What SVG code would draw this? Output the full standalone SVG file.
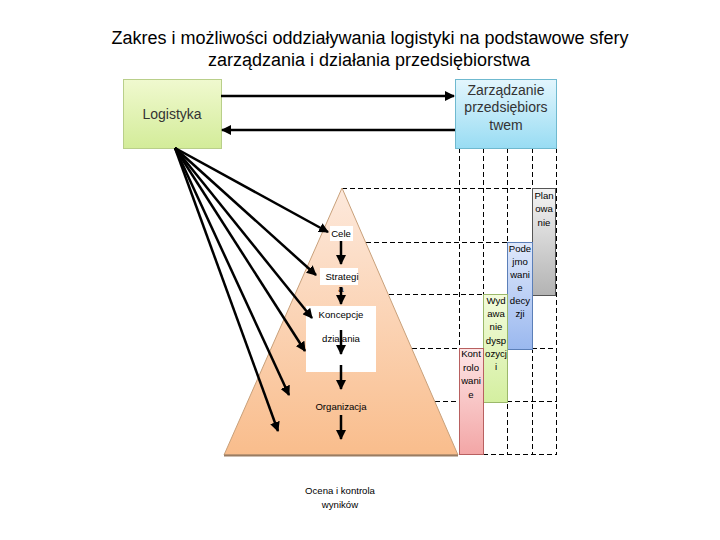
<svg xmlns="http://www.w3.org/2000/svg" width="720" height="540" viewBox="0 0 720 540">
<defs>
<linearGradient id="gGreen" x1="0" y1="0" x2="0" y2="1"><stop offset="0" stop-color="#f0f9cf"/><stop offset="1" stop-color="#d3ec99"/></linearGradient>
<linearGradient id="gCyan" x1="0" y1="0" x2="0" y2="1"><stop offset="0" stop-color="#e3f6fd"/><stop offset="1" stop-color="#98dcf3"/></linearGradient>
<linearGradient id="gGray" x1="0" y1="0" x2="0" y2="1"><stop offset="0" stop-color="#f4f4f4"/><stop offset="1" stop-color="#b3b3b3"/></linearGradient>
<linearGradient id="gBlue" x1="0" y1="0" x2="0" y2="1"><stop offset="0" stop-color="#dfe8fb"/><stop offset="1" stop-color="#9ab8ef"/></linearGradient>
<linearGradient id="gLime" x1="0" y1="0" x2="0" y2="1"><stop offset="0" stop-color="#f3fbdc"/><stop offset="1" stop-color="#d4efa0"/></linearGradient>
<linearGradient id="gPink" x1="0" y1="0" x2="0" y2="1"><stop offset="0" stop-color="#fde5e5"/><stop offset="1" stop-color="#f3a6a6"/></linearGradient>
<linearGradient id="gPyr" x1="0" y1="0" x2="0" y2="1"><stop offset="0" stop-color="#fde9dc"/><stop offset="1" stop-color="#f9bd8c"/></linearGradient>
<marker id="ah" viewBox="0 0 10 10" refX="9" refY="5" markerWidth="4" markerHeight="4" orient="auto" markerUnits="strokeWidth"><path d="M0,0 L10,5 L0,10 z" fill="#000"/></marker>
</defs>
<style>
.title{font-family:"Liberation Sans",Arial,sans-serif;font-size:18px;fill:#000;text-anchor:middle}
.box{font-family:"Liberation Sans",Arial,sans-serif;font-size:14px;fill:#333;text-anchor:middle}
.sm{font-family:"Liberation Sans",Arial,sans-serif;font-size:9.6px;fill:#000;text-anchor:middle}
.dash{stroke:#000;stroke-width:1;stroke-dasharray:5,3;fill:none}
.arr{stroke:#000;stroke-width:2.5;fill:none;marker-end:url(#ah)}
</style>
<rect width="720" height="540" fill="#fff"/>
<g id="title">
<text class="title" x="370" y="44">Zakres i możliwości oddziaływania logistyki na podstawowe sfery</text>
<text class="title" x="369" y="66">zarządzania i działania przedsiębiorstwa</text>
</g>
<g id="grid">
<line class="dash" x1="459.5" y1="148" x2="459.5" y2="455"/>
<line class="dash" x1="483.5" y1="148" x2="483.5" y2="455"/>
<line class="dash" x1="507.5" y1="148" x2="507.5" y2="455"/>
<line class="dash" x1="532.5" y1="148" x2="532.5" y2="455"/>
<line class="dash" x1="556.5" y1="148" x2="556.5" y2="455"/>
<line class="dash" x1="342" y1="188.5" x2="557" y2="188.5"/>
<line class="dash" x1="366" y1="242.5" x2="557" y2="242.5"/>
<line class="dash" x1="389" y1="294.5" x2="557" y2="294.5"/>
<line class="dash" x1="412" y1="348.5" x2="557" y2="348.5"/>
<line class="dash" x1="435" y1="401.5" x2="557" y2="401.5"/>
<line class="dash" x1="459" y1="454.5" x2="557" y2="454.5"/>
</g>
<g id="pyramid">
<polygon points="342,188 458,455 224,455" fill="url(#gPyr)" stroke="#c8a07a" stroke-width="1"/>
<line x1="224" y1="455.5" x2="458" y2="455.5" stroke="#9a7c62" stroke-width="2"/>
</g>
<g id="logistyka">
<rect x="123.5" y="79.5" width="98" height="69" fill="url(#gGreen)" stroke="#b9cf8a" stroke-width="1"/>
<text class="box" x="172" y="119">Logistyka</text>
</g>
<g id="zarzadzanie">
<rect x="455.5" y="79.5" width="101" height="69" fill="url(#gCyan)" stroke="#6fb9cf" stroke-width="1"/>
<text class="box" x="506" y="95">Zarządzanie</text>
<text class="box" x="506" y="112">przedsiębiors</text>
<text class="box" x="506" y="130">twem</text>
</g>
<g id="planowanie">
<rect x="532.5" y="188.5" width="23" height="107" fill="url(#gGray)" stroke="#555" stroke-width="1"/>
<text class="sm" x="544" y="199">Plan</text>
<text class="sm" x="544" y="212">owa</text>
<text class="sm" x="544" y="226">nie</text>
</g>
<g id="podejmowanie">
<rect x="507.5" y="242.5" width="25" height="107" fill="url(#gBlue)" stroke="#5b7fb8" stroke-width="1"/>
<text class="sm" x="520" y="252">Pode</text>
<text class="sm" x="520" y="265">jmo</text>
<text class="sm" x="520" y="278">wani</text>
<text class="sm" x="520" y="291">e</text>
<text class="sm" x="520" y="304">decy</text>
<text class="sm" x="520" y="317">zji</text>
</g>
<g id="wydawanie">
<rect x="483.5" y="294.5" width="24" height="108" fill="url(#gLime)" stroke="#9bb86a" stroke-width="1"/>
<text class="sm" x="496" y="304">Wyd</text>
<text class="sm" x="496" y="317">awa</text>
<text class="sm" x="496" y="330">nie</text>
<text class="sm" x="496" y="344">dysp</text>
<text class="sm" x="496" y="357">ozycj</text>
<text class="sm" x="496" y="370">i</text>
</g>
<g id="kontrolowanie">
<rect x="459.5" y="348.5" width="24" height="106" fill="url(#gPink)" stroke="#b86060" stroke-width="1"/>
<text class="sm" x="471" y="357">Kont</text>
<text class="sm" x="471" y="371">rolo</text>
<text class="sm" x="471" y="384">wani</text>
<text class="sm" x="471" y="398">e</text>
</g>
<g id="cele">
<rect x="330" y="226" width="23" height="15" fill="#fff"/>
<text class="sm" x="341" y="237">Cele</text>
</g>
<g id="strategia">
<rect x="320" y="268" width="38" height="17" fill="#fff"/>
<text class="sm" x="342" y="280">Strategi</text>
<text class="sm" x="341" y="292">a</text>
</g>
<g id="koncepcje">
<rect x="306" y="306" width="70" height="66" fill="#fff"/>
<text class="sm" x="341" y="318">Koncepcje</text>
<text class="sm" x="341" y="342">działania</text>
</g>
<g id="organizacja">
<text class="sm" x="341" y="410">Organizacja</text>
</g>
<g id="ocena">
<text class="sm" x="340" y="494">Ocena i kontrola</text>
<text class="sm" x="340" y="508">wyników</text>
</g>
<g id="connectors">
<line class="arr" x1="221" y1="96" x2="454" y2="96"/>
<line class="arr" x1="455" y1="130" x2="222" y2="130"/>
<line class="arr" x1="175" y1="148" x2="328" y2="232"/>
<line class="arr" x1="175" y1="148" x2="316" y2="275"/>
<line class="arr" x1="175" y1="148" x2="312" y2="318"/>
<line class="arr" x1="175" y1="148" x2="305" y2="351"/>
<line class="arr" x1="175" y1="148" x2="289" y2="395"/>
<line class="arr" x1="175" y1="148" x2="278" y2="431"/>
<line class="arr" x1="341" y1="241" x2="341" y2="264"/>
<line class="arr" x1="341" y1="287" x2="341" y2="304"/>
<line class="arr" x1="341" y1="330" x2="341" y2="354"/>
<line class="arr" x1="341" y1="365" x2="341" y2="389"/>
<line class="arr" x1="341" y1="415" x2="341" y2="439"/>
</g>
</svg>
